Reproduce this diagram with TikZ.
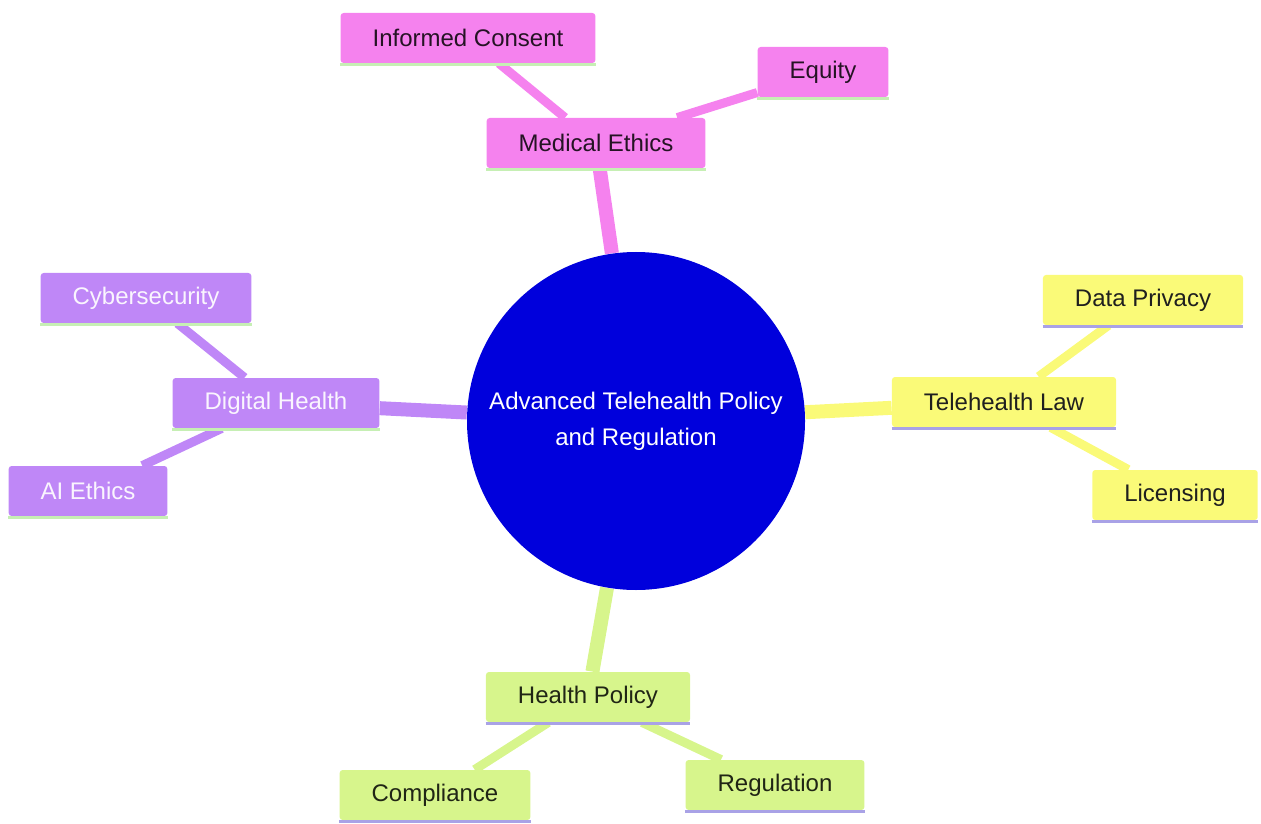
\documentclass[tikz,border=0pt]{standalone}
\usepackage{fontspec}
\setmainfont{Liberation Sans}
\usepackage{tikz}
\usetikzlibrary{backgrounds}

\definecolor{ethicspink}{HTML}{F582EE}
\definecolor{digitalpurple}{HTML}{BF87F7}
\definecolor{lawyellow}{HTML}{FAFA78}
\definecolor{policygreen}{HTML}{D7F58C}
\definecolor{hubblue}{HTML}{0000DC}
\definecolor{mintline}{HTML}{C6EFB4}
\definecolor{lavenderline}{HTML}{A9A2E6}

\tikzset{
	topic/.style = {rectangle, rounded corners=1.5pt, minimum height=25pt,
		inner xsep=16pt, font=\fontsize{12}{14}\selectfont},
	ethics/.style = {topic, fill=ethicspink, text=black!85!ethicspink},
	digital/.style = {topic, fill=digitalpurple, text=white!92!digitalpurple},
	law/.style = {topic, fill=lawyellow, text=black!88},
	policy/.style = {topic, fill=policygreen, text=black!85!policygreen},
	hub/.style = {circle, fill=hubblue, text=white, minimum size=169pt,
		inner sep=0pt, align=center, font=\fontsize{12}{18}\selectfont},
	branch/.style = {line width=7pt},
	twig/.style = {line width=4.5pt},
	underline/.style = {line width=1.5pt}
}

\begin{document}
\begin{tikzpicture}[x=0.5pt, y=-0.5pt]
				\useasboundingbox (0,0) rectangle (1261,823);
				\begin{scope}
					\node [hub] (hub) at (636,421) {Advanced Telehealth Policy\\and Regulation};
					% medical ethics
					\node [ethics] (ethics) at (596,143) {Medical Ethics};
					\node [ethics] (consent) at (468,38) {Informed Consent};
					\node [ethics] (equity) at (823,72) {Equity};
					% telehealth law
					\node [law] (law) at (1004,402) {Telehealth Law};
					\node [law] (privacy) at (1143,300) {Data Privacy};
					\node [law] (licensing) at (1175,495) {Licensing};
					% digital health
					\node [digital] (digital) at (276,403) {Digital Health};
					\node [digital] (cyber) at (146,298) {Cybersecurity};
					\node [digital] (aiethics) at (88,491) {AI Ethics};
					% health policy
					\node [policy] (policy) at (588,697) {Health Policy};
					\node [policy] (compliance) at (435,795) {Compliance};
					\node [policy] (regulation) at (775,785) {Regulation};
				\end{scope}
				\begin{scope}[on background layer]
					\path [branch, ethicspink] (hub) edge (ethics);
					\path [twig, ethicspink] (ethics) edge (consent);
					\path [twig, ethicspink] (ethics) edge (equity);
					\path [branch, lawyellow] (hub) edge (law);
					\path [twig, lawyellow] (law) edge (privacy);
					\path [twig, lawyellow] (law) edge (licensing);
					\path [branch, digitalpurple] (hub) edge (digital);
					\path [twig, digitalpurple] (digital) edge (cyber);
					\path [twig, digitalpurple] (digital) edge (aiethics);
					\path [branch, policygreen] (hub) edge (policy);
					\path [twig, policygreen] (policy) edge (compliance);
					\path [twig, policygreen] (policy) edge (regulation);
				\end{scope}
				% bottom rules of the boxes
				\foreach \nd/\clr in {ethics/mintline, consent/mintline, equity/mintline,
					digital/mintline, cyber/mintline, aiethics/mintline,
					law/lavenderline, privacy/lavenderline, licensing/lavenderline,
					policy/lavenderline, compliance/lavenderline, regulation/lavenderline}
					\draw [underline, \clr] ([yshift=-0.75pt]\nd.south west) -- ([yshift=-0.75pt]\nd.south east);
			\end{tikzpicture}
\end{document}
